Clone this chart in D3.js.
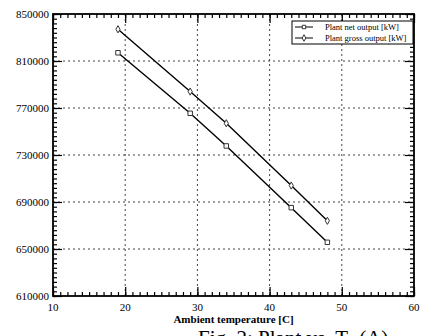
<!DOCTYPE html>
<meta charset="utf-8">
<style>
  body { margin: 0; background: #fff; }
  svg { display: block; }
  text { font-family: "Liberation Serif", "DejaVu Serif", serif; fill: #000; }
  .grid line { stroke: #444; stroke-width: 1; stroke-dasharray: 2,3; }
</style>
<body>
<svg width="424" height="336"></svg>
<script src="https://d3js.org/d3.v7.min.js"></script>
<script>

// ambient temperature [C]
var temps = [19, 29, 34, 43, 48];
// plant output [kW]
var netOutput = [817000, 765500, 737700, 685200, 655700];
var grossOutput = [837000, 784000, 757000, 704000, 674000];

var xTicks = [10, 20, 30, 40, 50, 60];
var yTicks = [610000, 650000, 690000, 730000, 770000, 810000, 850000];
var legendLabels = ["Plant net output [kW]", "Plant gross output [kW]"];

const svg = d3.select('svg'),
      L = 53, R = 414, T = 14, B = 296;

const x = d3.scaleLinear().domain([10, 60]).range([L, R]);
const y = d3.scaleLinear().domain([610000, 850000]).range([B, T]);

// dotted grid at the major ticks
const grid = svg.append('g').attr('class', 'grid');
grid.selectAll('.gx')
  .data(xTicks.slice(1, -1))
  .enter().append('line')
  .attr('x1', d => x(d)).attr('x2', d => x(d))
  .attr('y1', T).attr('y2', B);
grid.selectAll('.gy')
  .data(yTicks.slice(1, -1))
  .enter().append('line')
  .attr('x1', L).attr('x2', R)
  .attr('y1', d => y(d)).attr('y2', d => y(d));

// inward ticks on all four sides, minor ones every 1/10 of a major step
const xMinor = d3.range(10, 60.001, 1);
const yMinor = d3.range(610000, 850001, 4000);

function addAxis(axis, transform, ticks, size) {
  const g = svg.append('g').attr('transform', transform)
    .call(axis.tickValues(ticks).tickSize(size).tickFormat(''));
  g.select('.domain').remove();
  g.selectAll('.tick line').attr('stroke', '#000').attr('stroke-width', 1.2);
  return g;
}

addAxis(d3.axisTop(x), `translate(0,${B})`, xMinor, 4);
addAxis(d3.axisTop(x), `translate(0,${B})`, xTicks, 9);
addAxis(d3.axisBottom(x), `translate(0,${T})`, xMinor, 4);
addAxis(d3.axisBottom(x), `translate(0,${T})`, xTicks, 9);
addAxis(d3.axisRight(y), `translate(${L},0)`, yMinor, 4);
addAxis(d3.axisRight(y), `translate(${L},0)`, yTicks, 9);
addAxis(d3.axisLeft(y), `translate(${R},0)`, yMinor, 4);
addAxis(d3.axisLeft(y), `translate(${R},0)`, yTicks, 9);

// tick labels
svg.append('g').selectAll('text')
  .data(xTicks)
  .enter().append('text')
  .attr('x', d => x(d)).attr('y', B + 15)
  .attr('text-anchor', 'middle')
  .style('font-size', '11px')
  .text(d => d);

svg.append('g').selectAll('text')
  .data(yTicks)
  .enter().append('text')
  .attr('x', L - 4).attr('y', d => y(d) + 4)
  .attr('text-anchor', 'end')
  .style('font-size', '11px')
  .text(d => d);

// frame
svg.append('rect')
  .attr('x', L).attr('y', T)
  .attr('width', R - L).attr('height', B - T)
  .attr('fill', 'none').attr('stroke', '#000').attr('stroke-width', 1.8);

// series
const line = d3.line().x(d => x(d[0])).y(d => y(d[1]));
const series = [
  { vals: netOutput, sym: d3.symbolSquare, size: 20 },
  { vals: grossOutput, sym: d3.symbolDiamond, size: 15 }
];

series.forEach(s => {
  const pts = temps.map((t, i) => [t, s.vals[i]]);
  svg.append('path')
    .datum(pts)
    .attr('d', line)
    .attr('fill', 'none')
    .attr('stroke', '#000')
    .attr('stroke-width', 1.4);
  svg.append('g').selectAll('path')
    .data(pts)
    .enter().append('path')
    .attr('d', d3.symbol().type(s.sym).size(s.size))
    .attr('transform', d => `translate(${x(d[0])},${y(d[1])})`)
    .attr('fill', '#fff')
    .attr('stroke', '#333')
    .attr('stroke-width', 1);
});

// legend
const leg = svg.append('g').attr('transform', 'translate(292,21)');
leg.append('rect')
  .attr('width', 121).attr('height', 23)
  .attr('fill', '#fff').attr('stroke', '#000').attr('stroke-width', 1);
legendLabels.forEach((lab, i) => {
  const yy = 6 + i * 11;
  leg.append('line')
    .attr('x1', 3).attr('x2', 21).attr('y1', yy).attr('y2', yy)
    .attr('stroke', '#000').attr('stroke-width', 1);
  leg.append('path')
    .attr('d', d3.symbol().type(series[i].sym).size(12))
    .attr('transform', `translate(12,${yy})`)
    .attr('fill', '#fff').attr('stroke', '#333');
  leg.append('text')
    .attr('x', 33).attr('y', yy + 3)
    .style('font-size', '8.5px')
    .text(lab);
});

// axis title
svg.append('text')
  .attr('x', (L + R) / 2).attr('y', 323)
  .attr('text-anchor', 'middle')
  .style('font-size', '11px')
  .style('font-weight', 'bold')
  .text('Ambient temperature [C]');

// figure caption, cut off by the bottom edge
const cap = svg.append('text')
  .attr('x', 198).attr('y', 345)
  .style('font-size', '21px')
  .text('Fig. 2: Plant vs. T');
cap.append('tspan').attr('dy', 4).style('font-size', '13px').text('a');
cap.append('tspan').attr('dy', -4).text(' (A)');

</script>
</body>
